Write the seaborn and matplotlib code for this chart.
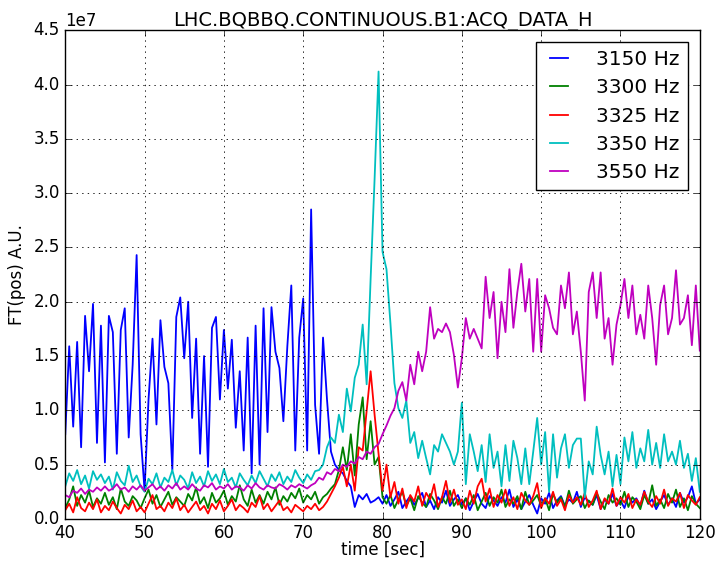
import matplotlib
matplotlib.use('Agg')
import matplotlib.pyplot as plt
import numpy as np
import pandas as pd
import seaborn as sns

# time axis, sampled every 0.5 s
time_s = np.arange(40, 120.01, 0.5)

# amplitudes, in units of 1e7
amp_3150 = [0.78, 1.59, 0.85, 1.63, 0.66, 1.87, 1.36, 1.98, 0.70, 1.78,
            0.52, 1.87, 1.72, 0.60, 1.74, 1.94, 0.75, 1.42, 2.43, 0.78,
            0.26, 1.10, 1.66, 0.87, 1.83, 1.40, 1.25, 0.45, 1.86, 2.04,
            1.48, 2.00, 0.93, 1.66, 0.60, 1.50, 0.48, 1.76, 1.86, 1.10,
            1.74, 1.20, 1.65, 0.84, 1.36, 0.63, 1.67, 0.42, 1.78, 0.50,
            1.94, 0.80, 1.95, 1.54, 1.39, 0.90, 1.59, 2.15, 0.63, 1.67,
            2.03, 0.63, 2.85, 1.05, 0.60, 1.67, 1.10, 0.62, 0.50, 0.45,
            0.42, 0.35, 0.30, 0.11, 0.22, 0.18, 0.23, 0.15, 0.17, 0.20,
            0.14, 0.22, 0.12, 0.18, 0.25, 0.10, 0.16, 0.21, 0.13, 0.19,
            0.24, 0.11, 0.17, 0.09, 0.20, 0.15, 0.26, 0.12, 0.18, 0.22,
            0.13, 0.19, 0.08, 0.16, 0.23, 0.14, 0.10, 0.21, 0.17, 0.12,
            0.20, 0.15, 0.27, 0.11, 0.18, 0.09, 0.16, 0.22, 0.13, 0.05,
            0.19, 0.14, 0.24, 0.10, 0.17, 0.21, 0.12, 0.18, 0.15, 0.25,
            0.11, 0.20, 0.16, 0.13, 0.22, 0.09, 0.18, 0.14, 0.23, 0.12,
            0.17, 0.10, 0.21, 0.15, 0.19, 0.12, 0.26, 0.14, 0.18, 0.09,
            0.16, 0.22, 0.13, 0.19, 0.11, 0.24, 0.15, 0.20, 0.30, 0.14,
            0.18]

amp_3300 = [0.10, 0.18, 0.30, 0.12, 0.22, 0.15, 0.26, 0.11, 0.19, 0.14,
            0.24, 0.13, 0.20, 0.09, 0.28, 0.16, 0.12, 0.21, 0.17, 0.10,
            0.19, 0.27, 0.14, 0.22, 0.11, 0.18, 0.25, 0.13, 0.20, 0.16,
            0.12, 0.23, 0.17, 0.29, 0.14, 0.20, 0.10, 0.24, 0.15, 0.19,
            0.26, 0.13, 0.21, 0.16, 0.31, 0.18, 0.12, 0.27, 0.15, 0.22,
            0.14, 0.25, 0.18, 0.29, 0.13, 0.21, 0.16, 0.24, 0.19, 0.28,
            0.15, 0.22, 0.18, 0.25, 0.14, 0.20, 0.23, 0.28, 0.32, 0.45,
            0.66, 0.45, 0.78, 0.40, 0.87, 1.12, 0.55, 0.90, 0.50, 0.57,
            0.20, 0.14, 0.22, 0.10, 0.18, 0.25, 0.12, 0.19, 0.08, 0.21,
            0.15, 0.11, 0.23, 0.17, 0.09, 0.20, 0.14, 0.26, 0.12, 0.18,
            0.10, 0.19, 0.13, 0.22, 0.08, 0.16, 0.24, 0.12, 0.20, 0.15,
            0.27, 0.11, 0.18, 0.14, 0.21, 0.09, 0.25, 0.13, 0.17, 0.22,
            0.12, 0.19, 0.08, 0.23, 0.15, 0.20, 0.11, 0.26, 0.14, 0.18,
            0.21, 0.10, 0.17, 0.13, 0.24, 0.16, 0.09, 0.22, 0.15, 0.19,
            0.13, 0.25, 0.11, 0.20, 0.16, 0.09, 0.22, 0.14, 0.31, 0.12,
            0.18, 0.10, 0.23, 0.15, 0.27, 0.11, 0.19, 0.08, 0.21, 0.14,
            0.10]

amp_3325 = [0.08, 0.14, 0.06, 0.20, 0.10, 0.07, 0.15, 0.09, 0.18, 0.06,
            0.12, 0.08, 0.16, 0.10, 0.05, 0.13, 0.09, 0.17, 0.07, 0.11,
            0.06, 0.14, 0.22, 0.09, 0.12, 0.07, 0.15, 0.10, 0.19, 0.08,
            0.13, 0.06, 0.11, 0.16, 0.08, 0.12, 0.05, 0.14, 0.09, 0.17,
            0.07, 0.12, 0.18, 0.08, 0.13, 0.10, 0.06, 0.15, 0.11, 0.21,
            0.09, 0.14, 0.07, 0.12, 0.17, 0.08, 0.11, 0.06, 0.13, 0.10,
            0.07, 0.12, 0.09, 0.14, 0.08, 0.11, 0.16, 0.23, 0.30, 0.38,
            0.48, 0.30, 0.50, 0.26, 0.66, 0.63, 1.00, 1.36, 0.96, 0.60,
            0.26, 0.50, 0.20, 0.34, 0.14, 0.28, 0.10, 0.22, 0.16, 0.30,
            0.12, 0.24, 0.18, 0.32, 0.11, 0.20, 0.35, 0.15, 0.27, 0.13,
            0.18, 0.09, 0.26, 0.14, 0.30, 0.37, 0.16, 0.28, 0.11, 0.22,
            0.15, 0.27, 0.12, 0.20, 0.09, 0.24, 0.17, 0.13, 0.21, 0.33,
            0.10, 0.19, 0.14, 0.25, 0.12, 0.18, 0.08, 0.22, 0.15, 0.20,
            0.13, 0.24, 0.11, 0.17, 0.26, 0.09, 0.19, 0.14, 0.28, 0.12,
            0.20, 0.15, 0.23, 0.10, 0.18, 0.13, 0.25, 0.16, 0.11, 0.21,
            0.14, 0.27, 0.12, 0.19, 0.16, 0.24, 0.10, 0.22, 0.17, 0.13,
            0.20]

amp_3350 = [0.30, 0.42, 0.35, 0.45, 0.32, 0.40, 0.28, 0.44, 0.36, 0.41,
            0.33, 0.39, 0.27, 0.43, 0.35, 0.31, 0.49, 0.34, 0.40, 0.30,
            0.25, 0.37, 0.32, 0.42, 0.29, 0.38, 0.34, 0.45, 0.31, 0.40,
            0.36, 0.28, 0.43, 0.33, 0.39, 0.30, 0.44, 0.35, 0.41, 0.32,
            0.46, 0.34, 0.38, 0.29, 0.42, 0.36, 0.31, 0.40, 0.33, 0.44,
            0.37, 0.30, 0.41, 0.35, 0.43, 0.32, 0.39, 0.34, 0.45, 0.38,
            0.33, 0.41, 0.36, 0.44, 0.45, 0.50, 0.66, 0.75, 0.70, 0.96,
            0.80, 1.20, 0.99, 1.30, 1.42, 1.79, 1.24, 2.21, 3.13, 4.12,
            2.46, 2.30, 1.80, 1.25, 1.02, 0.93, 1.09, 0.70, 0.80, 0.56,
            0.72, 0.56, 0.41, 0.68, 0.62, 0.78, 0.70, 0.62, 0.50, 0.62,
            1.07, 0.32, 0.78, 0.62, 0.44, 0.68, 0.34, 0.78, 0.47, 0.62,
            0.30, 0.68, 0.35, 0.72, 0.56, 0.32, 0.65, 0.32, 0.62, 0.93,
            0.50, 0.80, 0.25, 0.78, 0.38, 0.65, 0.78, 0.47, 0.68, 0.74,
            0.74, 0.20, 0.53, 0.41, 0.85, 0.59, 0.41, 0.62, 0.30, 0.59,
            0.32, 0.75, 0.53, 0.80, 0.47, 0.65, 0.53, 0.82, 0.50, 0.70,
            0.47, 0.78, 0.53, 0.62, 0.50, 0.72, 0.47, 0.60, 0.35, 0.56,
            0.25]

amp_3550 = [0.22, 0.20, 0.26, 0.24, 0.28, 0.23, 0.27, 0.25, 0.29, 0.26,
            0.30, 0.26, 0.28, 0.32, 0.27, 0.29, 0.25, 0.30, 0.27, 0.31,
            0.26, 0.29, 0.32, 0.27, 0.30, 0.26, 0.31, 0.28, 0.33, 0.27,
            0.30, 0.27, 0.32, 0.28, 0.26, 0.31, 0.29, 0.33, 0.27, 0.30,
            0.28, 0.32, 0.27, 0.30, 0.29, 0.26, 0.31, 0.28, 0.33, 0.29,
            0.27, 0.31, 0.29, 0.28, 0.32, 0.30, 0.27, 0.31, 0.29, 0.32,
            0.30, 0.28, 0.31, 0.33, 0.38, 0.36, 0.43, 0.41, 0.46, 0.44,
            0.50, 0.48, 0.53, 0.51, 0.57, 0.55, 0.62, 0.60, 0.66, 0.69,
            0.78, 0.86, 0.95, 1.02, 1.18, 1.26, 1.09, 1.42, 1.24, 1.54,
            1.36, 1.54, 1.95, 1.66, 1.75, 1.72, 1.80, 1.72, 1.51, 1.21,
            1.48, 1.85, 1.66, 1.75, 1.66, 1.57, 2.23, 1.85, 2.09, 1.48,
            2.00, 1.72, 2.30, 1.76, 2.09, 2.35, 1.91, 2.21, 1.54, 2.21,
            1.54, 2.06, 1.94, 1.76, 1.70, 2.15, 1.94, 2.27, 1.70, 1.91,
            1.54, 1.09, 2.09, 2.27, 1.85, 2.27, 1.66, 1.85, 1.42, 1.79,
            1.97, 2.21, 1.85, 2.15, 1.70, 1.88, 1.66, 2.15, 1.85, 1.42,
            1.97, 2.15, 1.70, 1.85, 2.29, 1.79, 1.85, 2.06, 1.60, 2.15,
            1.55]

labels = ['3150 Hz', '3300 Hz', '3325 Hz', '3350 Hz', '3550 Hz']
colors = ['#0000ff', '#008000', '#ff0000', '#00bfbf', '#bf00bf']

series = [amp_3150, amp_3300, amp_3325, amp_3350, amp_3550]
frames = []
for lab, vals in zip(labels, series):
    frames.append(pd.DataFrame({'time': time_s,
                                'value': np.array(vals) * 1e7,
                                'band': lab}))
df = pd.concat(frames, ignore_index=True)

plt.style.use('classic')
plt.rcParams['figure.facecolor'] = 'white'
plt.rcParams['savefig.facecolor'] = 'white'

fig = plt.figure(figsize=(7.17, 5.61), dpi=100)
ax = fig.add_axes([0.091, 0.075, 0.885, 0.871])

sns.lineplot(data=df, x='time', y='value', hue='band', palette=colors,
             estimator=None, linewidth=1.3, legend=False, ax=ax)

ax.set_xlim(40, 120)
ax.set_ylim(0, 4.5e7)
ax.set_yticks(np.arange(0, 4.51e7, 0.5e7))
ax.grid(True, linestyle=':', color='black', linewidth=0.6)

ax.set_title('LHC.BQBBQ.CONTINUOUS.B1:ACQ_DATA_H', fontsize=14, pad=3)
ax.set_xlabel('time [sec]', fontsize=12, labelpad=-1)
ax.set_ylabel('FT(pos) A.U.', fontsize=12)

ax.legend(ax.lines, labels, loc='upper right', fontsize=14.5,
          handlelength=1.5, handletextpad=1.1, borderaxespad=0.6,
          fancybox=False, labelspacing=0.45)

fig.savefig('out.png', dpi=100)
